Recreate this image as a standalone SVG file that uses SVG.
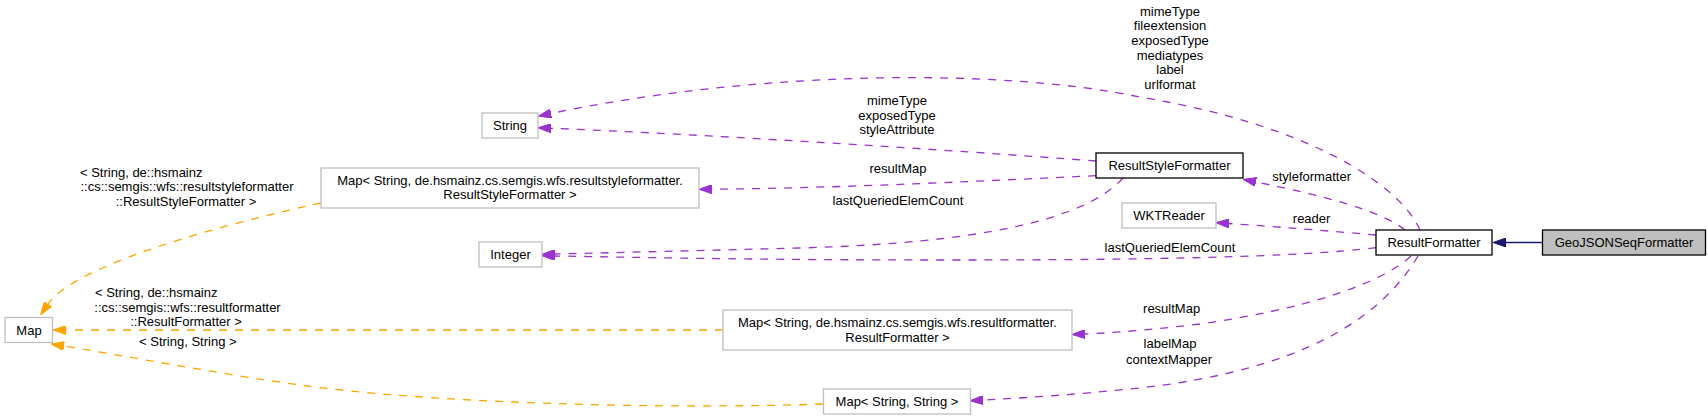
<svg xmlns="http://www.w3.org/2000/svg" width="1708" height="420" viewBox="0 0 1708 420">
<defs>
<style>
text{font-family:"Liberation Sans",Arial,Helvetica,sans-serif;font-size:13px;fill:#000;}
.c{text-anchor:middle;}
.s{text-anchor:start;}
.nb{fill:#fff;stroke:#bfbfbf;stroke-width:1.3;}
.nk{fill:#fff;stroke:#000;stroke-width:1.3;}
.ng{fill:#bfbfbf;stroke:#000;stroke-width:1.3;}
.ep{fill:none;stroke:#9a32cd;stroke-width:1.3;stroke-dasharray:8,8;marker-end:url(#ap);}
.eo{fill:none;stroke:#ffa500;stroke-width:1.3;stroke-dasharray:8,8;marker-end:url(#ao);}
.en{fill:none;stroke:#191970;stroke-width:1.3;marker-end:url(#an);}
</style>
<marker id="ap" viewBox="0 0 13 9" refX="0" refY="4.5" markerWidth="13" markerHeight="9" markerUnits="userSpaceOnUse" orient="auto"><path d="M0,0 L13,4.5 L0,9 Z" fill="#9a32cd" stroke="#9a32cd" stroke-width="1"/></marker>
<marker id="ao" viewBox="0 0 13 9" refX="0" refY="4.5" markerWidth="13" markerHeight="9" markerUnits="userSpaceOnUse" orient="auto"><path d="M0,0 L13,4.5 L0,9 Z" fill="#ffa500" stroke="#ffa500" stroke-width="1"/></marker>
<marker id="an" viewBox="0 0 13 9" refX="0" refY="4.5" markerWidth="13" markerHeight="9" markerUnits="userSpaceOnUse" orient="auto"><path d="M0,0 L13,4.5 L0,9 Z" fill="#191970" stroke="#191970" stroke-width="1"/></marker>
</defs>
<rect width="1708" height="420" fill="#fff"/>
<g id="connectors">
<path class="ep" d="M1420,230 C1400,185 1310,125 1140,97 C1000,68 760,70 551,113.5"/>
<text class="c" x="1170" y="15.7">mimeType</text>
<text class="c" x="1170" y="30.3">fileextension</text>
<text class="c" x="1170" y="44.9">exposedType</text>
<text class="c" x="1170" y="59.5">mediatypes</text>
<text class="c" x="1170" y="74.1">label</text>
<text class="c" x="1170" y="88.7">urlformat</text>
<path class="ep" d="M1096,161 C950,150 700,134 551,128.3"/>
<text class="c" x="897" y="104.7">mimeType</text>
<text class="c" x="897" y="119.5">exposedType</text>
<text class="c" x="897" y="134.3">styleAttribute</text>
<path class="ep" d="M1096,175.7 C1000,180 850,188 712,189.2"/>
<text class="c" x="898" y="173">resultMap</text>
<path class="ep" d="M1123,178 C1085,220 980,243 800,248 C680,251 600,253 555,254"/>
<text class="c" x="898" y="204.7">lastQueriedElemCount</text>
<path class="ep" d="M1376,247.7 C1300,257 1150,260 950,260 C750,260 620,257 555,256"/>
<text class="c" x="1170" y="251.7">lastQueriedElemCount</text>
<path class="ep" d="M1376,235 C1330,231 1280,227 1229,223.5"/>
<text class="c" x="1311.6" y="223">reader</text>
<path class="ep" d="M1405,230 C1380,210 1320,195 1256,182"/>
<text class="c" x="1311.6" y="180.7">styleformatter</text>
<path class="ep" d="M1411,256 C1380,285 1300,310 1200,324 C1150,330 1110,333 1085,334"/>
<text class="c" x="1171.6" y="313">resultMap</text>
<path class="ep" d="M1418,256 C1380,320 1300,370 1140,388 C1060,396 1020,398 983,400"/>
<text class="c" x="1170" y="348">labelMap</text>
<text class="c" x="1169" y="364">contextMapper</text>
<path class="en" d="M1542,242.5 L1506,242.5"/>
<path class="eo" d="M321,203 C220,225 75,265 48,304"/>
<text class="s" x="80" y="176.5">&lt; String, de::hsmainz</text>
<text class="c" x="187" y="191">::cs::semgis::wfs::resultstyleformatter</text>
<text class="c" x="186" y="205.5">::ResultStyleFormatter &gt;</text>
<path class="eo" d="M723,330 L66,330"/>
<text class="s" x="95" y="297.3">&lt; String, de::hsmainz</text>
<text class="c" x="187.5" y="311.7">::cs::semgis::wfs::resultformatter</text>
<text class="c" x="186" y="325.7">::ResultFormatter &gt;</text>
<path class="eo" d="M823,404 C650,410 420,402 300,385 C220,374 120,355 64,346"/>
<text class="c" x="187.8" y="345.7">&lt; String, String &gt;</text>
</g>
<g id="node-GeoJSONSeqFormatter"><rect class="ng" x="1542.5" y="230" width="163" height="25"/><text class="c" x="1624" y="247">GeoJSONSeqFormatter</text></g>
<g id="node-ResultFormatter"><rect class="nk" x="1376" y="230" width="116" height="25"/><text class="c" x="1434" y="247">ResultFormatter</text></g>
<g id="node-ResultStyleFormatter"><rect class="nk" x="1096" y="153" width="147" height="25"/><text class="c" x="1169.5" y="170">ResultStyleFormatter</text></g>
<g id="node-WKTReader"><rect class="nb" x="1122" y="203" width="94" height="25"/><text class="c" x="1169" y="220">WKTReader</text></g>
<g id="node-String"><rect class="nb" x="482" y="113" width="56" height="25"/><text class="c" x="510" y="130">String</text></g>
<g id="node-Integer"><rect class="nb" x="479" y="242" width="63" height="25"/><text class="c" x="510.5" y="259">Integer</text></g>
<g id="node-MapRSF"><rect class="nb" x="321" y="168" width="378" height="40"/><text class="c" x="510" y="184.7">Map&lt; String, de.hsmainz.cs.semgis.wfs.resultstyleformatter.</text><text class="c" x="510" y="199.2">ResultStyleFormatter &gt;</text></g>
<g id="node-MapRF"><rect class="nb" x="723" y="310" width="349" height="40"/><text class="c" x="897.5" y="327">Map&lt; String, de.hsmainz.cs.semgis.wfs.resultformatter.</text><text class="c" x="897.5" y="341.5">ResultFormatter &gt;</text></g>
<g id="node-MapSS"><rect class="nb" x="823.5" y="389" width="147" height="25"/><text class="c" x="897" y="406">Map&lt; String, String &gt;</text></g>
<g id="node-Map"><rect class="nb" x="5" y="317.5" width="47.5" height="25"/><text class="c" x="29" y="334.5">Map</text></g>
</svg>
